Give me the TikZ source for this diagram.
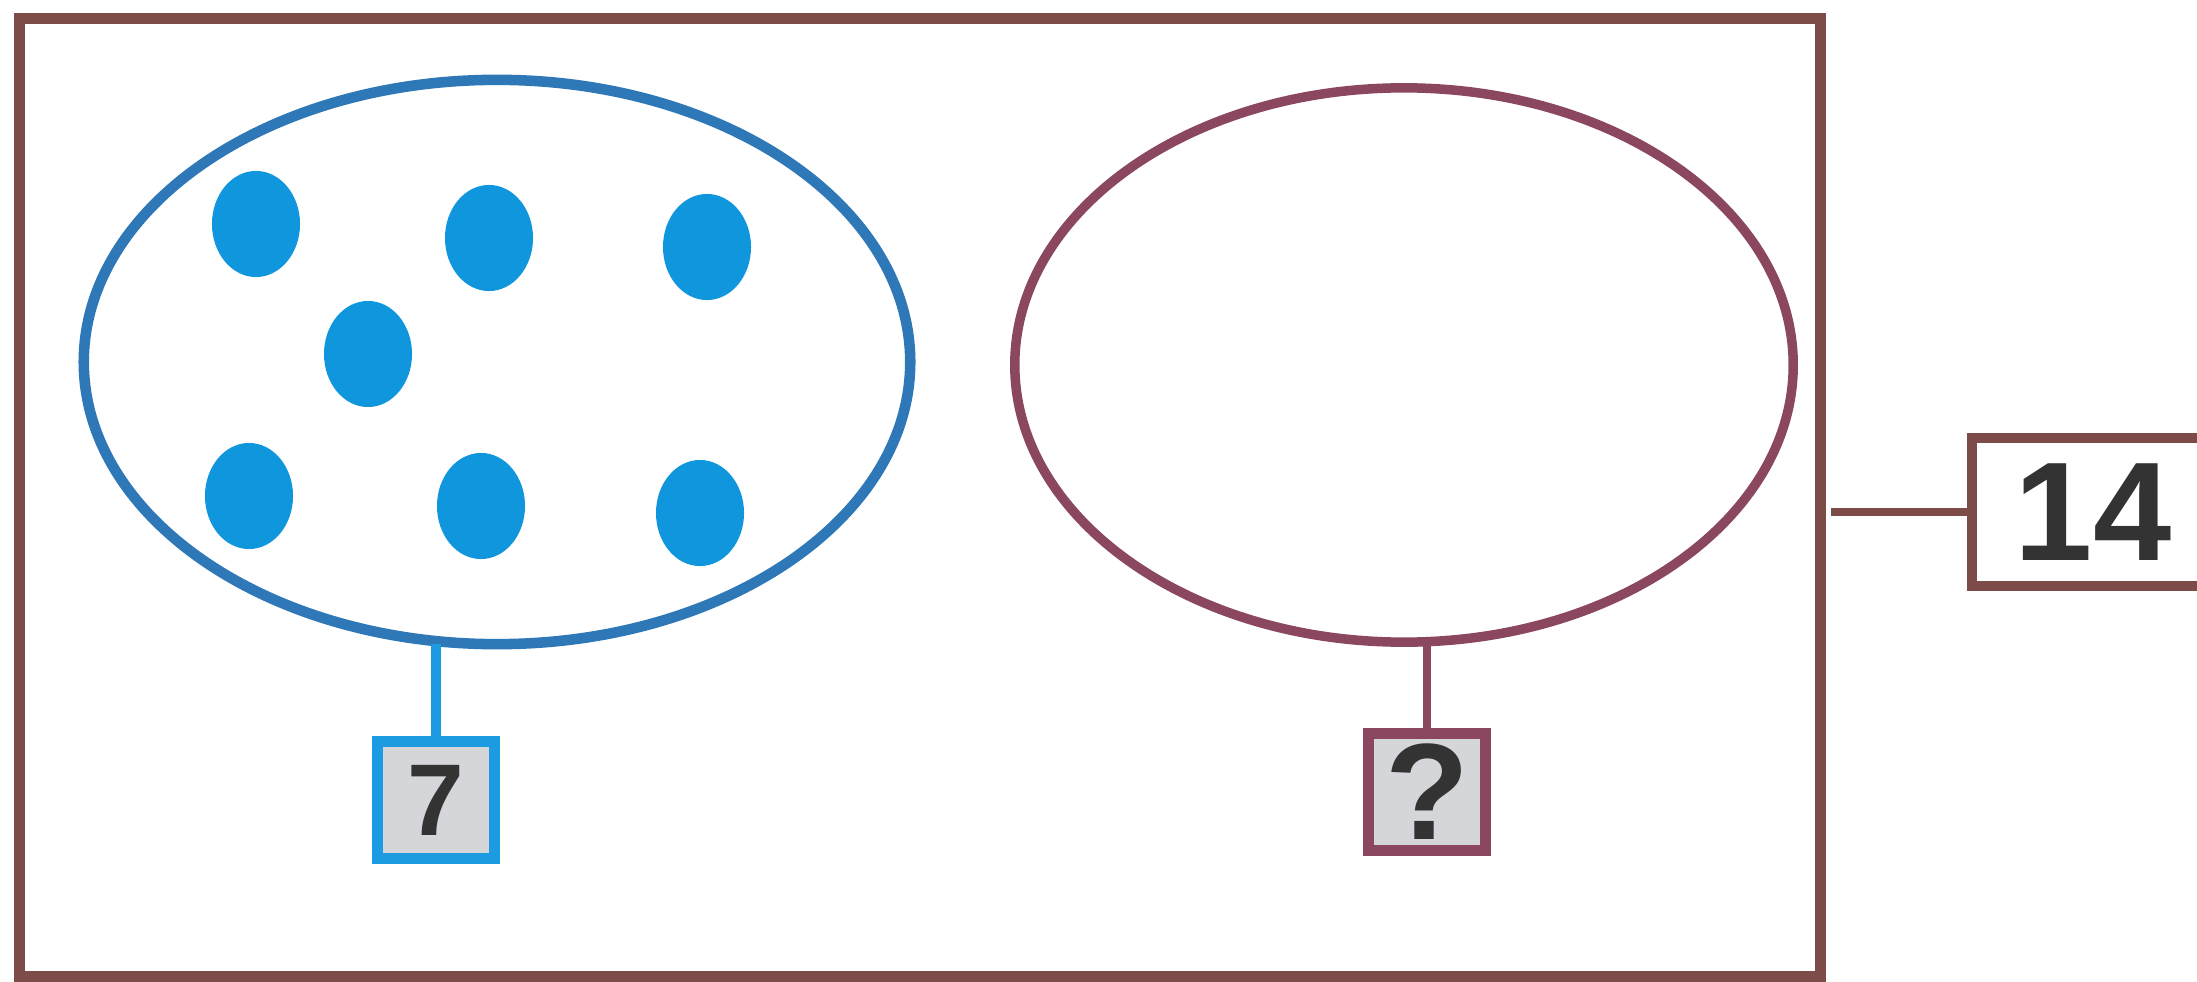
\documentclass[tikz,border=0pt]{standalone}
\usepackage{fontspec}
\setmainfont{Liberation Sans}
\usetikzlibrary{shapes.geometric}
\definecolor{framebrown}{HTML}{7D4B48}
\definecolor{setblue}{HTML}{2F78B8}
\definecolor{dotblue}{HTML}{1096DD}
\definecolor{boxblue}{HTML}{1C9BE2}
\definecolor{maroon}{HTML}{8B4660}
\definecolor{boxgray}{HTML}{D4D6D9}
\definecolor{numgray}{HTML}{333333}
\tikzset{
  setoval/.style={ellipse, inner sep=0pt, outer sep=0pt, line width=3pt},
  dot/.style={ellipse, fill=dotblue, inner sep=0pt, minimum width=0.88cm, minimum height=1.06cm},
  numbox/.style={rectangle, fill=boxgray, line width=3pt, inner sep=0pt, outer sep=0pt,
    minimum width=1.17cm, minimum height=1.17cm, text=numgray, font=\bfseries},
}
\begin{document}
\begin{tikzpicture}[x=0.01cm, y=-0.01cm]
\useasboundingbox (0,0) rectangle (2197,982);
\fill[white] (0,0) rectangle (2197,982);
\clip (0,0) rectangle (2197,982);
% outer frame
\node[draw=framebrown, line width=3pt, rectangle, inner sep=0pt, outer sep=0pt,
  minimum width=18cm, minimum height=9.57cm] (frame) at (920,497.5) {};
% sets
\node[setoval, draw=setblue, minimum width=8.26cm, minimum height=5.64cm] (left) at (497,362) {};
\node[setoval, draw=maroon, line width=2.7pt, minimum width=7.78cm, minimum height=5.54cm] (right) at (1404,365) {};
% dots
\node[dot] (d1) at (256,224) {};
\node[dot] (d2) at (489,238) {};
\node[dot] (d3) at (707,247) {};
\node[dot] (d4) at (368,354) {};
\node[dot] (d5) at (249,496) {};
\node[dot] (d6) at (481,506) {};
\node[dot] (d7) at (700,513) {};
% count boxes
\node[numbox, draw=boxblue, font=\bfseries\fontsize{29}{29}\selectfont] (seven) at (436,800) {7};
\node[numbox, draw=maroon, font=\bfseries\fontsize{39}{39}\selectfont] (quest) at (1427,792) {?};
\draw[boxblue, line width=3pt] (seven.north) -- (seven.north |- left.south);
\draw[maroon, line width=2.5pt] (quest.north) -- (quest.north |- right.south);
% total
\node[draw=framebrown, line width=3pt, rectangle, inner sep=0pt, outer sep=0pt,
  minimum width=2.42cm, minimum height=1.48cm, text=numgray,
  font=\bfseries\fontsize{40}{40}\selectfont] (total) at (2093,512) {14};
\draw[framebrown, line width=2.2pt] ([xshift=0.1cm]frame.east |- total.west) -- (total.west);
\end{tikzpicture}
\end{document}
